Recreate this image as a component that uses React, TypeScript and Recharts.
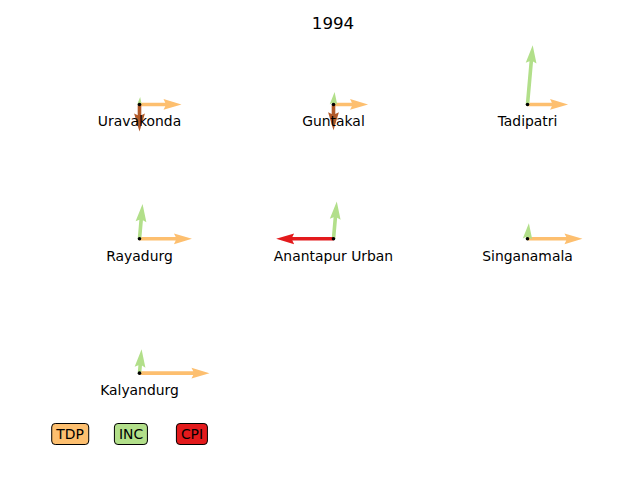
import { ReferenceLine, Scatter, ScatterChart, XAxis, YAxis } from "recharts";

// constituencies laid out on a 3x3 grid (col, row)
const places = ["Uravakonda", "Guntakal", "Tadipatri", "Rayadurg", "Anantapur Urban", "Singanamala", "Kalyandurg"];
const cols = [0, 1, 2, 0, 1, 2, 0];
const rows = [0, 0, 0, 1, 1, 1, 2];

// vote share (%) per party, same order as places
const tdp = [35, 28.8, 33.8, 43.7, 0, 45.8, 58.3];
const inc = [6.3, 10.5, 49.6, 29.2, 31.3, 13.1, 20];
const cpi = [0, 0, 0, 0, 47.8, 0, 0];
const ind = [22.5, 21.4, 0, 0, 0, 0, 0];

const parties = [
  { name: "TDP", shares: tdp, angle: 0, color: "#fdbf6f", legend: true },
  { name: "INC", shares: inc, angle: 85, color: "#b2df8a", legend: true },
  { name: "CPI", shares: cpi, angle: 180, color: "#e31a1c", legend: true },
  { name: "IND", shares: ind, angle: 270, color: "#b15928", legend: false },
];

const W = 640;
const H = 480;
const M = { top: 37.3, right: 15.5, bottom: 39.7, left: 42.5 };
const PX_PER_PCT = 1.2;
const XPX = (W - M.left - M.right) / 3;
const YPX = (H - M.top - M.bottom) / 3;
const FONT = "'DejaVu Sans', sans-serif";

const points = places.map((name, i) => ({ x: cols[i], y: rows[i], name }));

const arrows = parties.flatMap(p =>
  places
    .map((name, i) => {
      const s = p.shares[i];
      if (!s) return null;
      const a = (p.angle * Math.PI) / 180;
      return {
        key: `${p.name}-${name}`,
        color: p.color,
        from: { x: cols[i], y: rows[i] },
        to: {
          x: cols[i] + (s * PX_PER_PCT * Math.cos(a)) / XPX,
          y: rows[i] - (s * PX_PER_PCT * Math.sin(a)) / YPX,
        },
      };
    })
    .filter(Boolean) as { key: string; color: string; from: { x: number; y: number }; to: { x: number; y: number } }[]
);

function Arrow(props: any) {
  const { x1, y1, x2, y2, color } = props;
  const L = Math.hypot(x2 - x1, y2 - y1);
  if (!L) return <g />;
  const w0 = 3.6;
  const k = L < 5 * w0 ? L / (5 * w0) : 1;
  const w = w0 * k;
  const hl = 5 * w;
  const ha = 4.5 * w;
  const hw = 3 * w;
  const pts = [
    [0, -w / 2],
    [L - ha, -w / 2],
    [L - hl, -hw / 2],
    [L, 0],
    [L - hl, hw / 2],
    [L - ha, w / 2],
    [0, w / 2],
  ]
    .map(([px, py]) => `${px},${py}`)
    .join(" ");
  const deg = (Math.atan2(y2 - y1, x2 - x1) * 180) / Math.PI;
  return <polygon points={pts} fill={color} transform={`translate(${x1},${y1}) rotate(${deg})`} />;
}

function PlaceLabel(props: any) {
  const { cx, cy, payload } = props;
  return (
    <text x={cx} y={cy + 22} textAnchor="middle" fontFamily={FONT} fontSize={13.9} fill="#000">
      {payload.name}
    </text>
  );
}

function Dot(props: any) {
  return <circle cx={props.cx} cy={props.cy} r={1.8} fill="#000" />;
}

export default function App() {
  return (
    <div style={{ position: "absolute", left: 0, top: 0, width: W, height: H, background: "#fff", fontFamily: FONT }}>
      <div style={{ position: "absolute", left: 0, width: 666, top: 13, textAlign: "center", fontSize: 16.7, lineHeight: "20px" }}>
        1994
      </div>
      <ScatterChart width={W} height={H} margin={M}>
        <XAxis type="number" dataKey="x" domain={[-0.5, 2.5]} hide allowDataOverflow />
        <YAxis type="number" dataKey="y" domain={[-0.5, 2.5]} reversed hide allowDataOverflow />
        <Scatter data={points} shape={PlaceLabel} isAnimationActive={false} />
        {arrows.map(a => (
          <ReferenceLine
            key={a.key}
            segment={[a.from, a.to]}
            ifOverflow="visible"
            shape={(p: any) => <Arrow {...p} color={a.color} />}
          />
        ))}
        <Scatter data={points} shape={Dot} isAnimationActive={false} />
      </ScatterChart>
      {parties
        .filter(p => p.legend)
        .map((p, i) => (
          <div
            key={p.name}
            style={{
              position: "absolute",
              left: 70 + i * 61,
              top: 434,
              transform: "translate(-50%, -50%)",
              background: p.color,
              border: "1px solid #000",
              borderRadius: 4,
              padding: "0 4px",
              height: 20,
              lineHeight: "20px",
              fontSize: 13.9,
              whiteSpace: "nowrap",
            }}
          >
            {p.name}
          </div>
        ))}
    </div>
  );
}
